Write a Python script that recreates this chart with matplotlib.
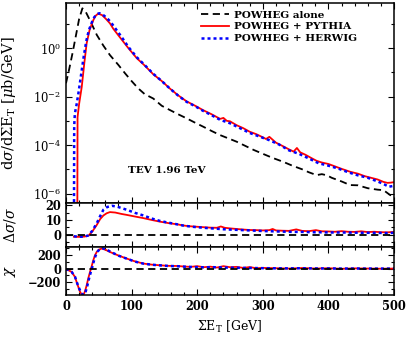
import numpy as np
import matplotlib
matplotlib.use('Agg')
import matplotlib.pyplot as plt
from matplotlib.ticker import MultipleLocator, FixedLocator, NullFormatter

plt.rcParams['font.family'] = 'DejaVu Serif'
plt.rcParams['mathtext.fontset'] = 'dejavuserif'

# spectrum, log10 of dsigma/dSumEt [mub/GeV]
x_alone = [0, 5, 10, 15, 20, 25, 30, 37, 47, 57, 67, 80, 90, 100, 110, 120, 133, 146, 158, 171,
           184, 197, 209, 222, 235, 248, 260, 273, 286, 300, 315, 331, 345, 360, 370, 382, 390,
           398, 405, 420, 433, 445, 460, 475, 484, 494, 500]
lg_alone = [-1.45, -0.85, -0.2, 0.5, 1.2, 1.64, 1.5, 1.12, 0.54, 0.1, -0.29, -0.7, -1.04, -1.36,
            -1.66, -1.9, -2.08, -2.38, -2.55, -2.73, -2.9, -3.08, -3.24, -3.42, -3.59, -3.73,
            -3.86, -4.03, -4.2, -4.36, -4.53, -4.69, -4.85, -5.0, -5.12, -5.24, -5.2, -5.25,
            -5.35, -5.5, -5.65, -5.66, -5.78, -5.84, -5.86, -6.06, -6.12]

x_pyth = [17.3, 17.6, 20, 24, 28, 31.5, 36, 41.6, 45, 49, 55, 61, 67, 72, 82, 95, 108, 120, 133,
          146, 158, 171, 184, 197, 209, 222, 235, 240, 245, 250, 260, 270, 280, 290, 300, 305,
          310, 315, 320, 331, 340, 347, 352, 357, 365, 375, 382, 390, 400, 410, 420, 433, 445,
          455, 465, 475, 484, 490, 495, 500]
lg_pyth = [-6.6, -2.85, -2.3, -1.6, -0.6, 0.2, 0.75, 1.15, 1.33, 1.42, 1.36, 1.2, 1.02, 0.8,
           0.45, 0.0, -0.42, -0.72, -1.08, -1.36, -1.66, -1.95, -2.2, -2.38, -2.56, -2.73,
           -2.92, -2.88, -3.0, -3.02, -3.18, -3.3, -3.45, -3.55, -3.68, -3.75, -3.66, -3.78,
           -3.9, -4.05, -4.18, -4.27, -4.12, -4.3, -4.4, -4.55, -4.65, -4.72, -4.78, -4.88,
           -4.98, -5.1, -5.18, -5.28, -5.35, -5.42, -5.52, -5.56, -5.55, -5.53]

x_herw = [12.2, 12.5, 13.5, 16, 19, 23, 27, 31, 35, 40, 43, 47, 51, 56, 62, 68, 75, 85, 95, 108,
          120, 133, 146, 158, 171, 184, 197, 209, 222, 235, 250, 265, 280, 295, 310, 325, 340,
          355, 370, 385, 400, 415, 430, 445, 460, 475, 485, 492, 500]
lg_herw = [-6.6, -3.2, -2.7, -2.35, -1.85, -1.1, -0.35, 0.3, 0.75, 1.1, 1.27, 1.4, 1.44, 1.38,
           1.25, 1.08, 0.82, 0.45, 0.05, -0.38, -0.7, -1.06, -1.36, -1.66, -1.96, -2.22, -2.4,
           -2.59, -2.77, -2.96, -3.1, -3.3, -3.5, -3.65, -3.8, -3.98, -4.22, -4.36, -4.55,
           -4.75, -4.85, -4.97, -5.12, -5.25, -5.35, -5.5, -5.62, -5.72, -5.68]

# relative difference panel
xd_pyth = [12, 20, 28, 34, 40, 47, 52, 57, 62, 67, 75, 85, 92.5, 105, 118, 130, 143, 156, 169,
           180, 190, 200, 210, 220, 230, 236, 242, 250, 260, 270, 280, 290, 300, 310, 315, 320,
           330, 340, 351, 360, 370, 381, 390, 400, 410, 420, 430, 440, 450, 460, 470, 480, 490,
           500]
d_pyth = [-1.5, -1.6, -1.4, -0.8, 2.0, 6.6, 10.5, 13.0, 14.5, 15.3, 15.0, 14.0, 13.4, 12.3,
          11.2, 10.0, 8.8, 7.8, 7.0, 6.1, 5.6, 5.3, 5.0, 4.7, 4.6, 5.5, 4.6, 4.2, 3.8, 3.4, 3.1,
          3.0, 2.8, 3.0, 3.8, 2.8, 2.6, 2.5, 3.5, 2.5, 2.3, 3.0, 2.2, 2.1, 1.9, 2.3, 1.9, 1.8,
          2.2, 1.7, 1.9, 1.6, 1.5, 1.8]
xd_herw = [12, 20, 28, 34, 40, 47, 52, 57, 63, 70, 78, 85, 92.5, 105, 118, 130, 143, 156, 169,
           180, 195, 210, 225, 240, 255, 270, 285, 300, 315, 330, 345, 360, 375, 390, 405, 420,
           435, 450, 465, 480, 490, 500]
d_herw = [-1.2, -1.5, -1.4, -0.6, 2.5, 7.8, 12.5, 16.9, 18.8, 19.6, 19.0, 18.0, 16.9, 14.8,
          13.0, 11.0, 9.3, 8.1, 7.0, 6.0, 5.2, 4.6, 4.1, 3.6, 3.3, 3.0, 2.7, 2.4, 2.2, 2.0, 1.8,
          1.8, 1.6, 1.5, 1.4, 1.4, 1.3, 1.2, 1.2, 1.1, 1.0, 1.2]

# chi panel
xc_pyth = [0, 4, 8.6, 13.7, 16, 18.8, 21, 24, 27, 29, 31.5, 34, 36.6, 39, 41.6, 44, 46.8, 50,
           54.4, 60, 67, 80, 92.5, 105, 118, 130, 143, 156, 169, 180, 190, 200, 210, 220, 230,
           240, 250, 260, 270, 280, 290, 300, 320, 340, 360, 380, 400, 420, 440, 460, 480, 500]
c_pyth = [-10, -25, -50, -122, -190, -268, -330, -380, -375, -330, -244, -140, -50, 30, 121,
          190, 242, 275, 292, 275, 242, 190, 146, 105, 73, 58, 48, 40, 38, 30, 25, 35, 20, 28,
          15, 35, 20, 25, 10, 22, 5, 10, 5, 0, 8, 0, 5, -3, 3, 0, -2, 0]
xc_herw = [0, 4, 8.6, 13.7, 16, 19, 22, 25, 28, 30, 32.5, 35, 37.5, 40, 42.5, 45, 48, 51, 55,
           61, 68, 80, 92.5, 105, 118, 130, 143, 156, 169, 180, 195, 210, 225, 240, 255, 270,
           285, 300, 320, 340, 360, 380, 400, 420, 440, 460, 480, 500]
c_herw = [-8, -22, -48, -118, -185, -265, -330, -378, -375, -335, -250, -150, -60, 20, 110,
          185, 245, 280, 296, 280, 245, 188, 145, 102, 72, 57, 47, 38, 35, 28, 22, 18, 20, 15,
          12, 10, 8, 6, 4, 3, 5, 2, 2, 0, 1, 0, 0, 0]

W, H = 407, 337
fig = plt.figure(figsize=(W / 100, H / 100), dpi=100)
L, R = 66 / W, 394 / W
def frac(p):
    return 1 - p / H
ax = fig.add_axes([L, frac(203), R - L, frac(3) - frac(203)])
ax1 = fig.add_axes([L, frac(247.3), R - L, frac(203) - frac(247.3)], sharex=ax)
ax2 = fig.add_axes([L, frac(295), R - L, frac(247.3) - frac(295)], sharex=ax)

dash = (0, (4, 2.5))
dots = (0, (1.2, 1.2))
ax.plot(x_alone, 10 ** np.array(lg_alone), 'k', ls=dash, lw=1.3, label='POWHEG alone')
ax.plot(x_pyth, 10 ** np.array(lg_pyth), color='#ff0000', lw=1.3, label='POWHEG + PYTHIA')
ax.plot(x_herw, 10 ** np.array(lg_herw), color='#0000ff', ls=dots, lw=1.8,
        label='POWHEG + HERWIG')
ax.set_yscale('log')
ax.set_ylim(10 ** -6.39, 10 ** 1.86)
ax.set_xlim(0, 500)
ax.set_yticks([1e0, 1e-2, 1e-4, 1e-6], [r'$10^{0}$', r'$10^{-2}$', r'$10^{-4}$', r'$10^{-6}$'])
ax.set_yticks([10.0 ** k for k in range(-5, 2, 2)], minor=True)
ax.yaxis.set_minor_formatter(NullFormatter())
ax.set_ylabel(r'd$\sigma$/d$\Sigma$E$_{\rm T}$ [$\mu$b/GeV]', fontsize=10.5)
ax.text(95, 10 ** -5.03, 'TEV 1.96 TeV', fontsize=7.5, fontweight='bold', va='center')
ax.legend(loc='upper left', bbox_to_anchor=(0.39, 1.0), frameon=False,
          prop={'weight': 'bold', 'size': 7.5}, handlelength=2.7, handletextpad=0.4,
          labelspacing=0.25, borderaxespad=0.3)

ax1.plot(xd_pyth, d_pyth, color='#ff0000', lw=1.3)
ax1.plot(xd_herw, d_herw, color='#0000ff', ls=dots, lw=1.8)
ax1.axhline(0, color='k', ls=dash, lw=1.3)
ax1.set_ylim(-8.7, 21.5)
ax1.yaxis.set_major_locator(FixedLocator([0, 10, 20]))
ax1.yaxis.set_minor_locator(MultipleLocator(5))
ax1.set_ylabel(r'$\Delta\sigma/\sigma$', fontsize=10)

ax2.plot(xc_pyth, c_pyth, color='#ff0000', lw=1.3)
ax2.plot(xc_herw, c_herw, color='#0000ff', ls=dots, lw=1.8)
ax2.axhline(0, color='k', ls=dash, lw=1.3)
ax2.set_ylim(-385, 310)
ax2.yaxis.set_major_locator(FixedLocator([-200, 0, 200]))
ax2.yaxis.set_minor_locator(MultipleLocator(100))
ax2.set_ylabel(r'$\chi$', fontsize=10.5)
ax2.set_xlabel(r'$\Sigma$E$_{\rm T}$ [GeV]', fontsize=9)

for a in (ax, ax1, ax2):
    a.xaxis.set_major_locator(MultipleLocator(100))
    a.xaxis.set_minor_locator(MultipleLocator(20))
    a.tick_params(which='both', direction='in', top=True, right=True, labelsize=8.3, width=0.8)
    a.tick_params(which='major', length=4)
    a.tick_params(which='minor', length=2)
    for lab in a.get_xticklabels() + a.get_yticklabels():
        lab.set_fontweight('bold')
    for s in a.spines.values():
        s.set_linewidth(1.1)
    a.yaxis.set_label_coords(-0.145, 0.5)
for a in (ax, ax1):
    plt.setp(a.get_xticklabels(), visible=False)

fig.savefig('out.png', dpi=100)
